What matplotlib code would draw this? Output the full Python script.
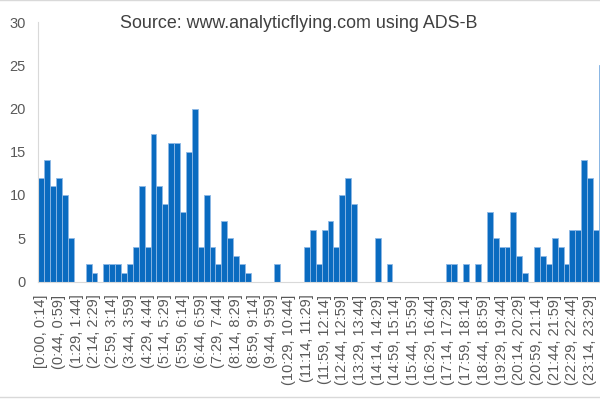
import matplotlib
matplotlib.use("Agg")
import matplotlib.pyplot as plt
from matplotlib.lines import Line2D

# flights per 15-minute slot, 96 slots over the day
counts = [12, 14, 11, 12, 10, 5, 0, 0, 2, 1, 0, 2,
          2, 2, 1, 2, 4, 11, 4, 17, 11, 9, 16, 16,
          8, 15, 20, 4, 10, 4, 2, 7, 5, 3, 2, 1,
          0, 0, 0, 0, 2, 0, 0, 0, 0, 4, 6, 2,
          6, 7, 4, 10, 12, 9, 0, 0, 0, 5, 0, 2,
          0, 0, 0, 0, 0, 0, 0, 0, 0, 2, 2, 0,
          2, 0, 2, 0, 8, 5, 4, 4, 8, 3, 1, 0,
          4, 3, 2, 5, 4, 2, 6, 6, 14, 12, 6, 25]

# every third slot gets a label
tick_labels = ["[0:00, 0:14]", "(0:44, 0:59]", "(1:29, 1:44]", "(2:14, 2:29]",
               "(2:59, 3:14]", "(3:44, 3:59]", "(4:29, 4:44]", "(5:14, 5:29]",
               "(5:59, 6:14]", "(6:44, 6:59]", "(7:29, 7:44]", "(8:14, 8:29]",
               "(8:59, 9:14]", "(9:44, 9:59]", "(10:29, 10:44]", "(11:14, 11:29]",
               "(11:59, 12:14]", "(12:44, 12:59]", "(13:29, 13:44]", "(14:14, 14:29]",
               "(14:59, 15:14]", "(15:44, 15:59]", "(16:29, 16:44]", "(17:14, 17:29]",
               "(17:59, 18:14]", "(18:44, 18:59]", "(19:29, 19:44]", "(20:14, 20:29]",
               "(20:59, 21:14]", "(21:44, 21:59]", "(22:29, 22:44]", "(23:14, 23:29]"]
y_ticks = [0, 5, 10, 15, 20, 25, 30]

plt.rcParams['font.family'] = ['Liberation Sans', 'DejaVu Sans']

fig = plt.figure(figsize=(6, 4), dpi=100)
# axes run a little past the right edge, like the cropped original
ax = fig.add_axes([38.4 / 600, 118.5 / 400, (96 * 5.9) / 600, 259.5 / 400])

x = list(range(len(counts)))
ax.bar(x, counts, width=1.0, color='#0A6BC0', edgecolor='#8DB8E5', linewidth=0.6)

ax.set_xlim(-0.5, len(counts) - 0.5)
ax.set_ylim(0, 30)
ax.set_yticks(y_ticks)
ax.set_xticks(x[::3])
ax.set_xticklabels(tick_labels, rotation=90)

ax.tick_params(axis='x', length=0, pad=9.5, labelsize=10.5, labelcolor='#595959')
ax.tick_params(axis='y', length=0, pad=9, labelsize=10.5, labelcolor='#595959')

for side in ['top', 'right']:
    ax.spines[side].set_visible(False)
ax.spines['left'].set_color('#D9D9D9')
ax.spines['bottom'].set_color('#D9D9D9')
ax.set_axisbelow(True)

fig.text(298.5 / 600, 1 - 24 / 400, 'Source: www.analyticflying.com using ADS-B',
         ha='center', va='center', fontsize=12.9, color='#404040')

# thin frame lines at the top and bottom of the picture
fig.add_artist(Line2D([0, 1], [0.999, 0.999], color='#D9D9D9', linewidth=1))
fig.add_artist(Line2D([0, 1], [1 - 396.5 / 400, 1 - 396.5 / 400], color='#D9D9D9', linewidth=1))

fig.savefig('out.png', dpi=100)
